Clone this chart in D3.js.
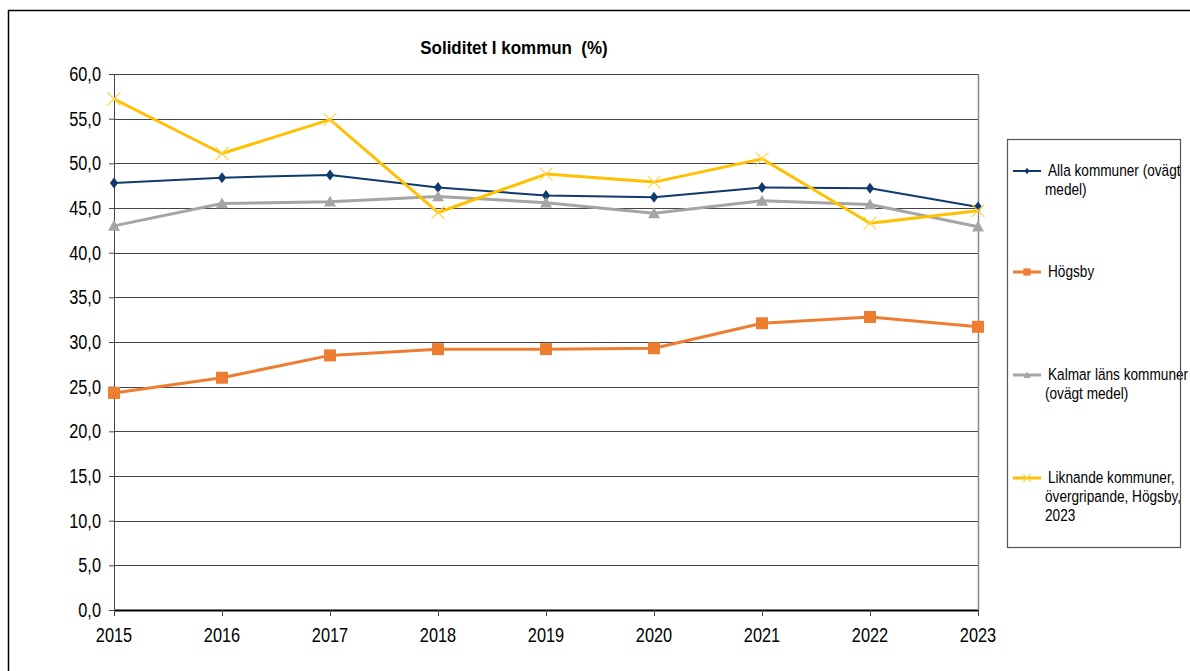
<!DOCTYPE html>
<html>
<head>
<meta charset="utf-8">
<script src="https://cdn.jsdelivr.net/npm/d3@7"></script>
<style>
  body { margin: 0; background: #fff; }
  text { font-family: "Liberation Sans", Arial, sans-serif; }
</style>
</head>
<body>
<script>
// data
var years = [2015, 2016, 2017, 2018, 2019, 2020, 2021, 2022, 2023]
var alla = [47.8, 48.4, 48.7, 47.3, 46.4, 46.2, 47.3, 47.2, 45.1]
var hogsby = [24.3, 26.0, 28.5, 29.2, 29.2, 29.3, 32.1, 32.8, 31.7]
var kalmar = [43.0, 45.5, 45.7, 46.3, 45.6, 44.4, 45.8, 45.4, 42.9]
var liknande = [57.2, 51.1, 54.9, 44.5, 48.8, 47.9, 50.5, 43.3, 44.7]
var yTicks = [0, 5, 10, 15, 20, 25, 30, 35, 40, 45, 50, 55, 60]

var series = [
  { name: ['Alla kommuner (ovägt', 'medel)'], values: alla, color: '#0f3b6c', width: 2, marker: 'diamond' },
  { name: ['Högsby'], values: hogsby, color: '#ed7d31', width: 3, marker: 'square' },
  { name: ['Kalmar läns kommuner', '(ovägt medel)'], values: kalmar, color: '#a5a5a5', width: 3, marker: 'triangle' },
  { name: ['Liknande kommuner,', 'övergripande, Högsby,', '2023'], values: liknande, color: '#ffc000', width: 3, marker: 'x' }
]

var W = 1190, H = 671
var margin = { top: 74, right: 212, bottom: 61, left: 114 }
var width = W - margin.left - margin.right
var height = H - margin.top - margin.bottom

var svg = d3.select('body').append('svg')
  .attr('width', W)
  .attr('height', H)

// outer frame
svg.append('rect')
  .attr('x', 8.5).attr('y', 10.5)
  .attr('width', W).attr('height', H)
  .attr('fill', 'none').attr('stroke', '#000').attr('stroke-width', 1.5)

svg.append('text')
  .attr('x', 514).attr('y', 54)
  .attr('text-anchor', 'middle')
  .style('font-weight', 'bold')
  .style('font-size', '17.5px')
  .style('white-space', 'pre')
  .attr('transform', 'translate(514,0) scale(0.97,1.1) translate(-514,-5)')
  .text('Soliditet I kommun  (%)')

var g = svg.append('g')
  .attr('transform', 'translate(' + margin.left + ',' + margin.top + ')')

var x = d3.scalePoint().domain(years).range([0, width])
var y = d3.scaleLinear().domain([0, 60]).range([height, 0])

// grid
g.append('g')
  .selectAll('line')
  .data(yTicks)
  .join('line')
  .attr('x1', 0).attr('x2', width)
  .attr('y1', function (d) { return Math.round(y(d)) + 0.5 })
  .attr('y2', function (d) { return Math.round(y(d)) + 0.5 })
  .attr('stroke', function (d) { return d === 0 ? '#000' : '#444' })
  .attr('stroke-width', function (d) { return d === 0 ? 2 : 1.2 })

g.append('line')
  .attr('x1', width + 0.5).attr('x2', width + 0.5)
  .attr('y1', 0).attr('y2', height)
  .attr('stroke', '#888').attr('stroke-width', 1.5)

var fmt = function (d) { return d3.format('.1f')(d).replace('.', ',') }

var yAxis = g.append('g')
  .call(d3.axisLeft(y).tickValues(yTicks).tickSize(5).tickFormat(''))
yAxis.select('.domain').attr('stroke', '#444')
yAxis.selectAll('line').attr('stroke', '#444')

// condensed tick labels
g.append('g').selectAll('text')
  .data(yTicks)
  .join('text')
  .attr('text-anchor', 'end')
  .attr('transform', function (d) { return 'translate(-13,' + (y(d) + 7) + ') scale(0.86,1.1)' })
  .style('font-size', '19px')
  .text(fmt)

var xAxis = g.append('g')
  .attr('transform', 'translate(0,' + height + ')')
  .call(d3.axisBottom(x).tickSize(6).tickFormat(''))
xAxis.select('.domain').remove()
xAxis.selectAll('line').attr('stroke', '#444')

g.append('g').selectAll('text')
  .data(years)
  .join('text')
  .attr('text-anchor', 'middle')
  .attr('transform', function (d) { return 'translate(' + x(d) + ',' + (height + 32) + ') scale(0.86,1.1)' })
  .style('font-size', '19px')
  .text(function (d) { return d })

var line = d3.line()
  .x(function (d, i) { return x(years[i]) })
  .y(function (d) { return y(d) })

function drawMarker (sel, type, color, s) {
  if (type === 'diamond') {
    sel.append('path').attr('d', 'M0,' + (-s) + 'L' + (s * 0.75) + ',0L0,' + s + 'L' + (-s * 0.75) + ',0Z').attr('fill', color)
  } else if (type === 'square') {
    sel.append('rect').attr('x', -s).attr('y', -s).attr('width', 2 * s).attr('height', 2 * s).attr('fill', color)
  } else if (type === 'triangle') {
    sel.append('path').attr('d', 'M0,' + (-s) + 'L' + s + ',' + (s * 0.8) + 'L' + (-s) + ',' + (s * 0.8) + 'Z').attr('fill', color)
  } else {
    sel.append('path').attr('d', 'M' + (-s) + ',' + (-s) + 'L' + s + ',' + s + 'M' + (-s) + ',' + s + 'L' + s + ',' + (-s))
      .attr('stroke', '#ffd34d').attr('stroke-width', 1.2).attr('fill', 'none')
  }
}

var sizes = { diamond: 5.5, square: 6, triangle: 6, x: 6.5 }

series.forEach(function (s) {
  g.append('path')
    .datum(s.values)
    .attr('d', line)
    .attr('fill', 'none')
    .attr('stroke', s.color)
    .attr('stroke-width', s.width)
    .attr('stroke-linejoin', 'round')

  g.append('g').selectAll('g')
    .data(s.values)
    .join('g')
    .attr('transform', function (d, i) { return 'translate(' + x(years[i]) + ',' + y(d) + ')' })
    .each(function () { drawMarker(d3.select(this), s.marker, s.color, sizes[s.marker]) })
})

// legend
var legend = svg.append('g')
svg.append('rect')
  .attr('x', 1007.5).attr('y', 139.5)
  .attr('width', 173).attr('height', 408)
  .attr('fill', 'none').attr('stroke', '#555').attr('stroke-width', 1.2)

var legendY = [171, 272, 375, 478]
series.forEach(function (s, i) {
  var item = legend.append('g').attr('transform', 'translate(0,' + legendY[i] + ')')
  item.append('line')
    .attr('x1', 1013).attr('x2', 1041).attr('y1', 0).attr('y2', 0)
    .attr('stroke', s.color).attr('stroke-width', s.width)
  var m = item.append('g').attr('transform', 'translate(1027,0)')
  drawMarker(m, s.marker, s.color, sizes[s.marker] * 0.6)
  item.selectAll('text')
    .data(s.name)
    .join('text')
    .attr('transform', function (d, j) {
      return 'translate(' + (j === 0 ? 1048 : 1045) + ',' + (j * 19 + 5) + ') scale(0.88,1.1)'
    })
    .style('font-size', '15.5px')
    .attr('fill', '#000')
    .text(function (d) { return d })
})
</script>
</body>
</html>
